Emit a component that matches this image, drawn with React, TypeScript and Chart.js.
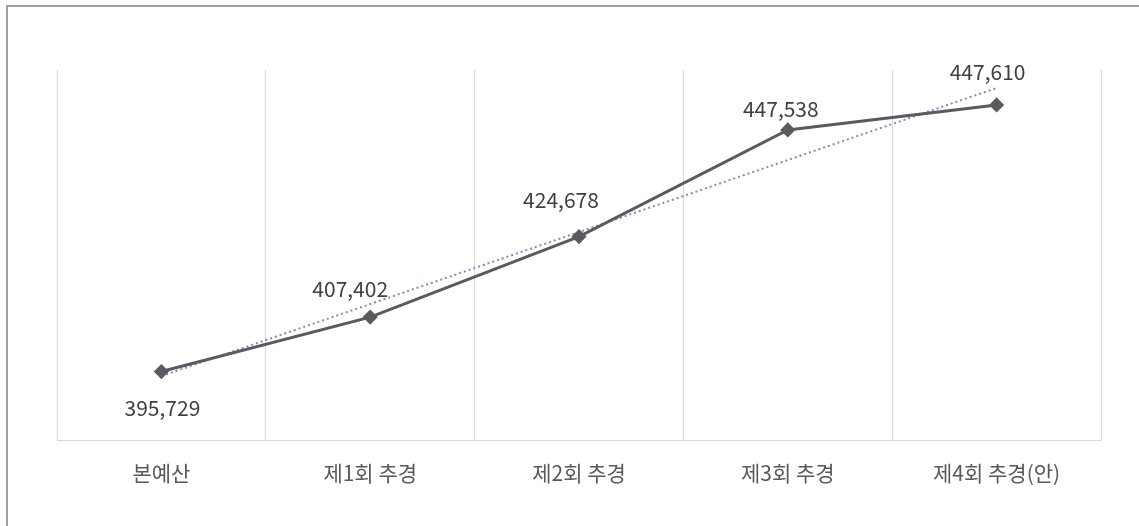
import React, { useEffect, useRef } from "react";
import { Chart, registerables } from "chart.js";

Chart.register(...registerables);

const categories = ["본예산", "제1회 추경", "제2회 추경", "제3회 추경", "제4회 추경(안)"];
const budgetValues = [395729, 407402, 424678, 447538, 452900];
const valueLabels = ["395,729", "407,402", "424,678", "447,538", "447,610"];

// label offsets relative to each point (style, not data)
const labelOffsets: [number, number][] = [
  [1, 36],
  [-20, -28],
  [-18, -37],
  [-7, -21],
  [-9, -33],
];

function linearTrend(vals: number[]): number[] {
  const n = vals.length;
  const mx = (n - 1) / 2;
  const my = vals.reduce((a, b) => a + b, 0) / n;
  let num = 0;
  let den = 0;
  vals.forEach((v, i) => {
    num += (i - mx) * (v - my);
    den += (i - mx) * (i - mx);
  });
  const slope = num / den;
  const b = my - slope * mx;
  return vals.map((_, i) => b + slope * i);
}

const FONT = "'Noto Sans CJK KR', 'Noto Sans', sans-serif";

const labelPlugin = {
  id: "valueLabels",
  afterDatasetsDraw(chart: any) {
    const meta = chart.getDatasetMeta(0);
    const ctx = chart.ctx;
    ctx.save();
    ctx.font = `21px ${FONT}`;
    ctx.fillStyle = "#404040";
    ctx.textAlign = "center";
    ctx.textBaseline = "middle";
    meta.data.forEach((pt: any, i: number) => {
      const [dx, dy] = labelOffsets[i];
      ctx.fillText(valueLabels[i], pt.x + dx, pt.y + dy);
    });
    ctx.restore();
  },
};

export default function App() {
  const ref = useRef<HTMLCanvasElement>(null);
  useEffect(() => {
    if (!ref.current) return;
    const chart = new Chart(ref.current, {
      type: "line",
      data: {
        labels: categories,
        datasets: [
          {
            label: "예산",
            data: budgetValues,
            borderColor: "#5b5b5f",
            backgroundColor: "#5b5b5f",
            borderWidth: 3,
            pointStyle: "rectRot",
            pointRadius: 5.5,
            pointBackgroundColor: "#5b5b5f",
            pointBorderColor: "#5b5b5f",
            tension: 0,
            order: 1,
          },
          {
            label: "추세",
            data: linearTrend(budgetValues),
            borderColor: "#8585c4",
            borderWidth: 2,
            borderDash: [2, 3],
            pointRadius: 0,
            tension: 0,
            order: 2,
          },
        ],
      },
      options: {
        animation: false,
        responsive: false,
        maintainAspectRatio: false,
        layout: { padding: { left: 57, right: 38, top: 70, bottom: 20 } },
        plugins: { legend: { display: false }, tooltip: { enabled: false } },
        scales: {
          x: {
            offset: true,
            grid: { offset: true, color: "#d9d9d9", drawTicks: false, lineWidth: 1 },
            border: { color: "#d9d9d9" },
            ticks: { color: "#595959", padding: 20, font: { family: FONT, size: 21 } },
          },
          y: {
            display: false,
            min: 380874,
            max: 460402,
          },
        },
      },
      plugins: [labelPlugin],
    });
    return () => chart.destroy();
  }, []);

  return (
    <div style={{ position: "fixed", left: 0, top: 0, width: 1139, height: 526, background: "#fff", overflow: "hidden" }}>
      <div
        style={{
          position: "absolute",
          left: 6,
          top: 5,
          width: 1150,
          height: 540,
          border: "2px solid #a0a0a0",
          boxSizing: "border-box",
        }}
      />
      <canvas ref={ref} width={1139} height={526} style={{ position: "absolute", left: 0, top: 0 }} />
    </div>
  );
}
